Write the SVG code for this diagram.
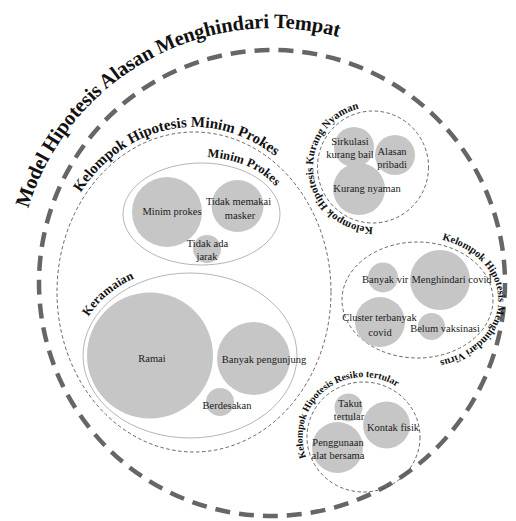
<svg xmlns="http://www.w3.org/2000/svg" width="516" height="521" viewBox="0 0 516 521">
<style>
.outer{fill:none;stroke:#666;stroke-width:4.5;stroke-dasharray:15 9}
.grp{fill:none;stroke:#555;stroke-width:0.9;stroke-dasharray:3.5 2.5}
.sub{fill:none;stroke:#b5b5b5;stroke-width:1}
.node{fill:#c6c6c6}
.lbl{font-family:"Liberation Serif","Times New Roman",serif;font-size:10.5px;fill:#1a1a1a;text-anchor:middle}
.title{font-family:"Liberation Serif","Times New Roman",serif;font-weight:bold;fill:#111}
</style>
<defs>
<path id="pTitle" d="M 28.2 208.5 A 255 255 0 0 1 399.5 62.2"/>
<path id="pMP" d="M 80.6 192.7 A 142 165 0 0 1 302.8 185.9"/>
<path id="pMinim" d="M 207.4 157.1 A 84.5 57 0 0 1 284.7 204.1"/>
<path id="pKer" d="M 88.4 316.7 A 113 88.5 0 0 1 190 267"/>
<path id="pKN" d="M 373 227 A 60 60 0 1 1 383.4 107.9"/>
<path id="pVir" d="M 441.9 239.8 A 80 63 0 0 1 424.5 362.8"/>
<path id="pRes" d="M 306.2 457.5 A 61 60 0 0 1 410.2 398.4"/>
</defs>

<g id="model">
<circle class="outer" cx="272" cy="283" r="233"/>
<text class="title" font-size="20.5"><textPath href="#pTitle" textLength="392" lengthAdjust="spacing">Model Hipotesis Alasan Menghindari Tempat</textPath></text>
</g>

<g id="kelompok-minim-prokes">
<ellipse class="grp" cx="194" cy="292" rx="137" ry="160"/>
<text class="title" font-size="15"><textPath href="#pMP">Kelompok Hipotesis Minim Prokes</textPath></text>
</g>

<g id="minim-prokes-group">
<ellipse class="sub" cx="201.5" cy="214" rx="78.5" ry="51"/>
<text class="title" font-size="12.5"><textPath href="#pMinim">Minim Prokes</textPath></text>
</g>
<g id="minim-prokes">
<circle class="node" cx="167" cy="212" r="35"/>
<text class="lbl" x="172" y="215">Minim prokes</text>
</g>
<g id="tidak-memakai-masker">
<circle class="node" cx="237.5" cy="206" r="26"/>
<text class="lbl" x="238.5" y="205">Tidak memakai</text>
<text class="lbl" x="240" y="219">masker</text>
</g>
<g id="tidak-ada-jarak">
<circle class="node" cx="207" cy="249" r="14"/>
<text class="lbl" x="207.5" y="247">Tidak ada</text>
<text class="lbl" x="207" y="260">jarak</text>
</g>

<g id="keramaian-group">
<ellipse class="sub" cx="190" cy="355.5" rx="107" ry="82.5"/>
<text class="title" font-size="12.5"><textPath href="#pKer">Keramaian</textPath></text>
</g>
<g id="ramai">
<circle class="node" cx="150" cy="355.5" r="63"/>
<text class="lbl" x="152" y="362">Ramai</text>
</g>
<g id="banyak-pengunjung">
<circle class="node" cx="253.5" cy="358.5" r="36.5"/>
<text class="lbl" x="264" y="363">Banyak pengunjung</text>
</g>
<g id="berdesakan">
<circle class="node" cx="220" cy="402" r="14"/>
<text class="lbl" x="227" y="409">Berdesakan</text>
</g>

<g id="kelompok-kurang-nyaman">
<ellipse class="grp" cx="373" cy="167" rx="55.5" ry="56"/>
<text class="title" font-size="10.8"><textPath href="#pKN">Kelompok Hipotesis Kurang Nyaman</textPath></text>
</g>
<g id="sirkulasi">
<circle class="node" cx="354" cy="147" r="20"/>
<text class="lbl" x="350" y="145">Sirkulasi</text>
<text class="lbl" x="350" y="158">kurang bail</text>
</g>
<g id="alasan-pribadi">
<circle class="node" cx="395" cy="155" r="20"/>
<text class="lbl" x="392" y="155">Alasan</text>
<text class="lbl" x="392" y="168">pribadi</text>
</g>
<g id="kurang-nyaman">
<circle class="node" cx="359" cy="189" r="26"/>
<text class="lbl" x="367" y="192">Kurang nyaman</text>
</g>

<g id="kelompok-menghindari-virus">
<ellipse class="grp" cx="417.5" cy="300" rx="75.5" ry="58"/>
<text class="title" font-size="10.5"><textPath href="#pVir">Kelompok Hipotesis Menghindari Virus</textPath></text>
</g>
<g id="banyak-virus">
<circle class="node" cx="383" cy="277.5" r="15"/>
<text class="lbl" x="362" y="283" style="text-anchor:start">Banyak vir</text>
</g>
<g id="menghindari-covid">
<circle class="node" cx="440" cy="280" r="30"/>
<text class="lbl" x="451.5" y="283">Menghindari covid</text>
</g>
<g id="cluster-terbanyak-covid">
<circle class="node" cx="380" cy="322" r="25"/>
<text class="lbl" x="379.5" y="321">Cluster terbanyak</text>
<text class="lbl" x="380" y="336">covid</text>
</g>
<g id="belum-vaksinasi">
<circle class="node" cx="431.5" cy="326.5" r="13.5"/>
<text class="lbl" x="445" y="332">Belum vaksinasi</text>
</g>

<g id="kelompok-resiko-tertular">
<ellipse class="grp" cx="363.5" cy="437" rx="56.5" ry="55"/>
<text class="title" font-size="9.8"><textPath href="#pRes">Kelompok Hipotesis Resiko tertular</textPath></text>
</g>
<g id="takut-tertular">
<circle class="node" cx="348.5" cy="407.5" r="14"/>
</g>
<g id="kontak-fisik">
<circle class="node" cx="386.5" cy="425" r="23.5"/>
<text class="lbl" x="393" y="431">Kontak fisik</text>
</g>
<g id="penggunaan-alat-bersama">
<circle class="node" cx="337.5" cy="447.5" r="25.5"/>
<text class="lbl" x="338" y="446">Penggunaan</text>
<text class="lbl" x="338" y="459">alat bersama</text>
</g>
<g id="takut-tertular-label">
<text class="lbl" x="350" y="407">Takut</text>
<text class="lbl" x="349" y="420">tertular</text>
</g>
<g id="connectors"></g>
</svg>
